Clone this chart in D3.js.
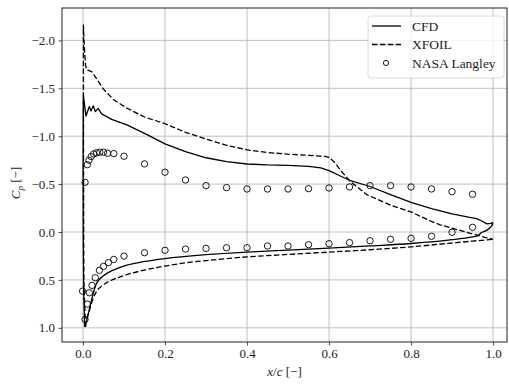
<!DOCTYPE html>
<html>
<head>
<meta charset="utf-8">
<script src="https://cdn.jsdelivr.net/npm/d3@7"></script>
<style>
  html, body { margin: 0; padding: 0; background: #fff; }
  svg { display: block; }
  text { font-family: "Liberation Serif", "DejaVu Serif", serif; fill: #222; }
</style>
</head>
<body>
<svg id="chart" width="509" height="385"></svg>
<script>
// Pressure coefficient along the chord: CFD, XFOIL and NASA Langley measurements.

const xTicks = [0.0, 0.2, 0.4, 0.6, 0.8, 1.0];
const yTicks = [-2.0, -1.5, -1.0, -0.5, 0.0, 0.5, 1.0];

// CFD, suction side (from stagnation point to trailing edge)
const cfdUpperX  = [0.004, 0.0015, 0.0005, 0.0003, 0.0008, 0.001, 0.0073, 0.0154, 0.0195, 0.025, 0.030, 0.037, 0.0455, 0.07, 0.107, 0.15, 0.20, 0.25, 0.30, 0.35, 0.40, 0.45, 0.50, 0.55, 0.58, 0.60, 0.625, 0.65, 0.70, 0.75, 0.80, 0.85, 0.90, 0.94, 0.96, 0.975, 0.985, 0.995, 1.0];
const cfdUpperCp = [0.99, 0.60, 0.00, -0.60, -1.20, -1.42, -1.21, -1.31, -1.264, -1.317, -1.257, -1.29, -1.233, -1.175, -1.118, -1.03, -0.92, -0.84, -0.775, -0.735, -0.71, -0.70, -0.695, -0.685, -0.67, -0.64, -0.59, -0.54, -0.475, -0.39, -0.31, -0.245, -0.19, -0.155, -0.14, -0.11, -0.085, -0.09, -0.10];

// CFD, pressure side
const cfdLowerX  = [0.004, 0.009, 0.017, 0.025, 0.033, 0.05, 0.074, 0.107, 0.147, 0.20, 0.30, 0.40, 0.50, 0.60, 0.70, 0.80, 0.90, 0.95, 0.962, 0.972, 0.985, 0.995, 1.0];
const cfdLowerCp = [0.99, 0.92, 0.78, 0.64, 0.536, 0.457, 0.397, 0.345, 0.31, 0.277, 0.237, 0.21, 0.19, 0.168, 0.145, 0.12, 0.08, 0.05, 0.04, 0.005, -0.02, -0.055, -0.09];

// XFOIL, suction side
const xfoilUpperX  = [0.006, 0.002, 0.0012, 0.001, 0.003, 0.006, 0.009, 0.015, 0.021, 0.03, 0.05, 0.075, 0.107, 0.15, 0.20, 0.25, 0.30, 0.35, 0.40, 0.45, 0.50, 0.55, 0.59, 0.60, 0.615, 0.627, 0.651, 0.692, 0.75, 0.80, 0.85, 0.871, 0.90, 0.95, 0.98, 1.0];
const xfoilUpperCp = [0.99, 0.50, -1.00, -2.16, -1.95, -1.75, -1.693, -1.685, -1.675, -1.62, -1.49, -1.38, -1.293, -1.20, -1.13, -1.04, -0.97, -0.905, -0.857, -0.83, -0.812, -0.80, -0.79, -0.78, -0.72, -0.65, -0.53, -0.39, -0.28, -0.21, -0.11, -0.075, -0.04, 0.02, 0.055, 0.076];

// XFOIL, pressure side
const xfoilLowerX  = [0.006, 0.01, 0.017, 0.025, 0.033, 0.05, 0.074, 0.107, 0.147, 0.20, 0.25, 0.30, 0.40, 0.50, 0.60, 0.70, 0.80, 0.90, 0.95, 1.0];
const xfoilLowerCp = [0.99, 0.90, 0.80, 0.69, 0.62, 0.55, 0.495, 0.445, 0.400, 0.355, 0.322, 0.298, 0.260, 0.234, 0.21, 0.185, 0.155, 0.115, 0.095, 0.076];

// NASA Langley measurements, suction side
const nasaUpperX  = [0.005, 0.0105, 0.0146, 0.020, 0.026, 0.033, 0.041, 0.050, 0.060, 0.075, 0.10, 0.15, 0.20, 0.25, 0.30, 0.35, 0.40, 0.45, 0.50, 0.55, 0.60, 0.65, 0.70, 0.75, 0.80, 0.85, 0.90, 0.95];
const nasaUpperCp = [-0.519, -0.703, -0.749, -0.787, -0.815, -0.826, -0.833, -0.833, -0.822, -0.818, -0.791, -0.711, -0.624, -0.543, -0.484, -0.463, -0.449, -0.449, -0.449, -0.452, -0.460, -0.470, -0.484, -0.484, -0.470, -0.449, -0.421, -0.394];

// NASA Langley measurements, pressure side
const nasaLowerX  = [-0.001, 0.005, 0.0105, 0.0154, 0.022, 0.030, 0.040, 0.050, 0.062, 0.075, 0.10, 0.15, 0.20, 0.25, 0.30, 0.35, 0.40, 0.45, 0.50, 0.55, 0.60, 0.65, 0.70, 0.75, 0.80, 0.85, 0.90, 0.95];
const nasaLowerCp = [0.617, 0.912, 0.752, 0.634, 0.557, 0.477, 0.400, 0.359, 0.320, 0.286, 0.251, 0.216, 0.191, 0.178, 0.171, 0.164, 0.164, 0.146, 0.146, 0.132, 0.122, 0.111, 0.091, 0.076, 0.066, 0.045, 0.003, -0.049];

const svg = d3.select("#chart");
const plot = { left: 62, right: 507, top: 8, bottom: 342 };

const x = d3.scaleLinear().domain([-0.0512, 1.034]).range([plot.left, plot.right]);
// Cp axis runs with negative values at the top
const y = d3.scaleLinear().domain([-2.338, 1.148]).range([plot.top, plot.bottom]);

const fmt = d => d3.format(".1f")(d).replace("-", "\u2212");

// grid
const grid = svg.append("g").attr("stroke", "#b0b0b0").attr("stroke-width", 0.8);
grid.selectAll("line.gx").data(xTicks).join("line")
  .attr("x1", d => x(d)).attr("x2", d => x(d))
  .attr("y1", plot.top).attr("y2", plot.bottom);
grid.selectAll("line.gy").data(yTicks).join("line")
  .attr("x1", plot.left).attr("x2", plot.right)
  .attr("y1", d => y(d)).attr("y2", d => y(d));

// clip to axes area
svg.append("clipPath").attr("id", "clip").append("rect")
  .attr("x", plot.left).attr("y", plot.top)
  .attr("width", plot.right - plot.left).attr("height", plot.bottom - plot.top);

const marks = svg.append("g").attr("clip-path", "url(#clip)");
const lineLinear = d3.line().x(d => x(d[0])).y(d => y(d[1]));
const lineSmooth = d3.line().x(d => x(d[0])).y(d => y(d[1])).curve(d3.curveMonotoneX);
const zip = (a, b) => a.map((v, i) => [v, b[i]]);

const series = [
  { xs: cfdUpperX, ys: cfdUpperCp, dash: null, gen: lineLinear },
  { xs: cfdLowerX, ys: cfdLowerCp, dash: null, gen: lineSmooth },
  { xs: xfoilUpperX, ys: xfoilUpperCp, dash: "5.5,2.4", gen: lineLinear },
  { xs: xfoilLowerX, ys: xfoilLowerCp, dash: "5.5,2.4", gen: lineSmooth }
];
series.forEach(s => {
  marks.append("path")
    .datum(zip(s.xs, s.ys))
    .attr("d", s.gen)
    .attr("fill", "none")
    .attr("stroke", "#000")
    .attr("stroke-width", 1.3)
    .attr("stroke-linejoin", "round")
    .attr("stroke-dasharray", s.dash);
});

const pts = zip(nasaUpperX, nasaUpperCp).concat(zip(nasaLowerX, nasaLowerCp));
marks.selectAll("circle.nasa").data(pts).join("circle")
  .attr("cx", d => x(d[0])).attr("cy", d => y(d[1]))
  .attr("r", 3.2)
  .attr("fill", "none").attr("stroke", "#000").attr("stroke-width", 0.9);

// axes
const xAxis = d3.axisBottom(x).tickValues(xTicks).tickFormat(fmt).tickSize(3.5).tickPadding(3.5);
const yAxis = d3.axisLeft(y).tickValues(yTicks).tickFormat(fmt).tickSize(3.5).tickPadding(3.5);

const gx = svg.append("g").attr("transform", `translate(0,${plot.bottom})`).call(xAxis);
const gy = svg.append("g").attr("transform", `translate(${plot.left},0)`).call(yAxis);
[gx, gy].forEach(g => {
  g.select(".domain").remove();
  g.selectAll(".tick line").attr("stroke", "#222").attr("stroke-width", 0.8);
  g.selectAll(".tick text").attr("font-size", 13).attr("fill", "#222")
    .style("font-family", '"Liberation Serif", serif');
});

// frame
svg.append("rect")
  .attr("x", plot.left).attr("y", plot.top)
  .attr("width", plot.right - plot.left).attr("height", plot.bottom - plot.top)
  .attr("fill", "none").attr("stroke", "#222").attr("stroke-width", 1);

// axis labels
const xl = svg.append("text").attr("x", (plot.left + plot.right) / 2).attr("y", 376)
  .attr("text-anchor", "middle").attr("font-size", 13);
xl.append("tspan").attr("font-style", "italic").text("x");
xl.append("tspan").text("/");
xl.append("tspan").attr("font-style", "italic").text("c");
xl.append("tspan").text(" [\u2212]");

const yl = svg.append("text")
  .attr("transform", `translate(20,${(plot.top + plot.bottom) / 2 + 8}) rotate(-90)`)
  .attr("text-anchor", "middle").attr("font-size", 13);
yl.append("tspan").attr("font-style", "italic").text("C");
yl.append("tspan").attr("font-style", "italic").attr("font-size", 9).attr("dy", 3).text("p");
yl.append("tspan").attr("dy", -3).text(" [\u2212]");

// legend
const legend = svg.append("g");
legend.append("rect")
  .attr("x", 368).attr("y", 16).attr("width", 136).attr("height", 62)
  .attr("rx", 3).attr("fill", "#fff").attr("fill-opacity", 0.8)
  .attr("stroke", "#d0d0d0").attr("stroke-width", 0.8);
const entries = [
  { label: "CFD", kind: "solid" },
  { label: "XFOIL", kind: "dashed" },
  { label: "NASA Langley", kind: "marker" }
];
entries.forEach((e, i) => {
  const cy = 26 + i * 18.5;
  if (e.kind === "marker") {
    legend.append("circle").attr("cx", 386).attr("cy", cy).attr("r", 2.6)
      .attr("fill", "none").attr("stroke", "#000").attr("stroke-width", 0.9);
  } else {
    legend.append("line").attr("x1", 372).attr("x2", 401).attr("y1", cy).attr("y2", cy)
      .attr("stroke", "#000").attr("stroke-width", 1.3)
      .attr("stroke-dasharray", e.kind === "dashed" ? "5.5,2.4" : null);
  }
  legend.append("text").attr("x", 412).attr("y", cy + 4.5)
    .attr("font-size", 13.5).text(e.label);
});
</script>
</body>
</html>
